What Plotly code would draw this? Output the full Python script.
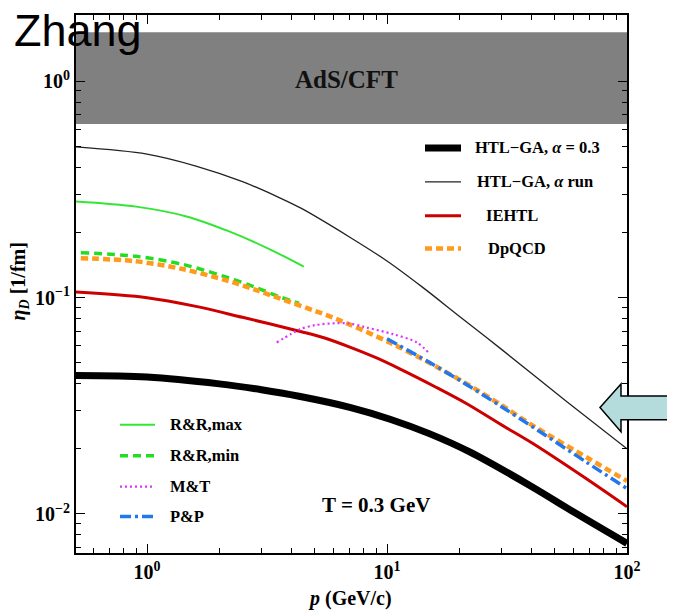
import numpy as np
import plotly.graph_objects as go

# ---------------- data ----------------
htl_fixed_p = [0.5, 1.0, 2.0, 3.0, 4.3, 7.0, 10.3, 15, 22, 40, 60, 100]
htl_fixed_eta = [0.0436, 0.0429, 0.0399, 0.0375, 0.0350, 0.0311, 0.0274, 0.0235, 0.0194, 0.0134, 0.0102, 0.00731]

htl_run_p = [0.5, 1.0, 1.6, 2.5, 3.5, 4.4, 7.0, 10, 14, 20, 30, 56, 100]
htl_run_eta = [0.497, 0.46, 0.405, 0.343, 0.292, 0.258, 0.190, 0.1475, 0.112, 0.082, 0.0576, 0.0331, 0.020]

iehtl_p = [0.5, 1.0, 1.6, 2.5, 4.4, 5.5, 7.0, 9.0, 11.3, 16, 21.5, 30, 40.7, 68, 100]
iehtl_eta = [0.106, 0.0998, 0.091, 0.081, 0.0695, 0.0650, 0.0590, 0.0527, 0.0468, 0.0385, 0.0323, 0.0258, 0.0211, 0.0145, 0.0108]

dpqcd_p = [0.53, 0.9, 1.42, 2.2, 2.8, 3.5, 5.6, 7.0, 10.3, 14.2, 21, 30, 41, 70, 100]
dpqcd_eta = [0.152, 0.147, 0.135, 0.119, 0.109, 0.0998, 0.0829, 0.0750, 0.0618, 0.0516, 0.0405, 0.0318, 0.0254, 0.0179, 0.0142]

rr_max_p = [0.5, 0.9, 1.46, 2.2, 3.25, 4.5]
rr_max_eta = [0.278, 0.263, 0.237, 0.202, 0.167, 0.139]

rr_min_p = [0.53, 0.9, 1.42, 2.2, 2.8, 3.5, 4.3]
rr_min_eta = [0.161, 0.155, 0.142, 0.123, 0.112, 0.1016, 0.094]

mt_p = [3.47, 4.0, 4.34, 5.0, 6.17, 7.0, 8.2, 10.6, 13.3, 15.1]
mt_eta = [0.062, 0.068, 0.0714, 0.0745, 0.0761, 0.0758, 0.0727, 0.0677, 0.062, 0.0548]

pp_p = [10, 15, 21, 30, 41, 68, 100]
pp_eta = [0.0645, 0.0502, 0.0402, 0.0313, 0.0250, 0.0173, 0.0131]

ads_cft_band = [0.634, 1.68]          # eta_D range of AdS/CFT band
x_range = [0.506, 100]
y_range = [0.0066, 2.02]

x_major = [1, 10, 100]
x_major_text = ["10<sup>0</sup>", "10<sup>1</sup>", "10<sup>2</sup>"]
y_major = [0.01, 0.1, 1]
y_major_text = ["10<sup>\u22122</sup>", "10<sup>\u22121</sup>", "10<sup>0</sup>"]
x_minor = [0.6, 0.7, 0.8, 0.9] + [k for k in range(2, 10)] + [10 * k for k in range(2, 10)]
y_minor = [0.007, 0.008, 0.009] + [k / 100 for k in range(2, 10)] + [k / 10 for k in range(2, 10)] + [2]

# ---------------- figure ----------------
W, H = 675, 611
BODY = 8   # default page body margin of the html page
X0, X1, Y0, Y1 = 76, 627, 12.5, 552.7


def px(v):
    return (v - X0) / (X1 - X0)


def py(v):
    return (Y1 - v) / (Y1 - Y0)


SERIF = "Liberation Serif"
fig = go.Figure()

# AdS/CFT band
fig.add_trace(go.Scatter(
    x=[x_range[0], x_range[1], x_range[1], x_range[0]],
    y=[ads_cft_band[0], ads_cft_band[0], ads_cft_band[1], ads_cft_band[1]],
    fill="toself", fillcolor="#808080", mode="lines",
    line=dict(width=0, color="#808080"), hoverinfo="skip", showlegend=False))

SM = dict(shape="spline", smoothing=0.9)
series = [
    (htl_fixed_p, htl_fixed_eta, dict(color="black", width=7)),
    (htl_run_p, htl_run_eta, dict(color="#222222", width=1.3)),
    (iehtl_p, iehtl_eta, dict(color="#cc0000", width=3)),
    (rr_max_p, rr_max_eta, dict(color="#33e633", width=2)),
    (rr_min_p, rr_min_eta, dict(color="#22dd22", width=3.5, dash="8px,5px")),
    (dpqcd_p, dpqcd_eta, dict(color="#ff9a1a", width=4.5, dash="7px,4px")),
    (mt_p, mt_eta, dict(color="#dd33ff", width=2.2, dash="2px,3px")),
    (pp_p, pp_eta, dict(color="#2277ee", width=3.5, dash="11px,4px,3px,4px")),
]
names = ["HTL\u2212GA, \u03b1 = 0.3", "HTL\u2212GA, \u03b1 run", "IEHTL", "R&R,max",
         "R&R,min", "DpQCD", "M&T", "P&P"]
for (xs, ys, ln), nm in zip(series, names):
    ln = dict(ln, **SM)
    fig.add_trace(go.Scatter(x=xs, y=ys, mode="lines", line=ln, name=nm, showlegend=False))

axis_common = dict(
    type="log", showgrid=False, zeroline=False, showline=True, linewidth=2,
    linecolor="black", mirror="allticks", ticks="inside", ticklen=9, tickwidth=1.3,
    tickcolor="black", tickmode="array",
    tickfont=dict(family=SERIF, size=20, color="black", weight="bold"),
)
fig.update_xaxes(**axis_common, range=[np.log10(x_range[0]), np.log10(x_range[1])],
                 tickvals=x_major, ticktext=x_major_text,
                 minor=dict(tickmode="array", tickvals=x_minor, ticks="inside", ticklen=5,
                            tickwidth=1, tickcolor="black", showgrid=False))
fig.update_yaxes(**axis_common, range=[np.log10(y_range[0]), np.log10(y_range[1])],
                 tickvals=y_major, ticktext=y_major_text,
                 minor=dict(tickmode="array", tickvals=y_minor, ticks="inside", ticklen=5,
                            tickwidth=1, tickcolor="black", showgrid=False))

ann = []
shapes = []


def text(t, x, y, size, xanchor="left", family=SERIF, bold=True, angle=0, color="black"):
    ann.append(dict(text=t, x=px(x), y=py(y), xref="paper", yref="paper",
                    xanchor=xanchor, yanchor="middle", showarrow=False, textangle=angle,
                    font=dict(family=family, size=size, color=color,
                              weight="bold" if bold else "normal")))


text("AdS/CFT", 346, 77, 25, xanchor="center", color="#111111")
text("T = 0.3 GeV", 320, 505, 21)
text("<i>p</i> (GeV/c)", 350, 598, 20, xanchor="center")
text("<i>\u03b7<sub>D</sub></i> [1/fm]", 19, 280, 20, xanchor="center", angle=-90)
text("Zhang", 12, 28, 45, family="Liberation Sans", bold=False)

# legend (top right)
top_leg = [
    (146, 473, "HTL\u2212GA, <i>\u03b1</i> = 0.3", series[0][2]),
    (180, 475, "HTL\u2212GA, <i>\u03b1</i> run", series[1][2]),
    (214, 484, "IEHTL", series[2][2]),
    (247, 486, "DpQCD", series[5][2]),
]
for yy, tx, lab, ln in top_leg:
    shapes.append(dict(type="line", xref="paper", yref="paper", x0=px(425), x1=px(461),
                       y0=py(yy), y1=py(yy), line=dict(color=ln["color"], width=ln["width"],
                                                       dash=ln.get("dash", "solid"))))
    text(lab, tx, yy, 16.5)

bot_leg = [
    (424, "R&amp;R,max", series[3][2]),
    (455, "R&amp;R,min", series[4][2]),
    (486, "M&amp;T", series[6][2]),
    (516, "P&amp;P", series[7][2]),
]
for yy, lab, ln in bot_leg:
    shapes.append(dict(type="line", xref="paper", yref="paper", x0=px(120), x1=px(155),
                       y0=py(yy), y1=py(yy), line=dict(color=ln["color"], width=ln["width"],
                                                       dash=ln.get("dash", "solid"))))
    text(lab, 168, yy, 16.5)

# arrow on the right
pts = [(600, 406.5), (621, 383), (621, 395), (674, 395), (674, 419), (621, 419), (621, 431)]
path = "M " + " L ".join(f"{px(a):.4f},{py(b):.4f}" for a, b in pts) + " Z"
shapes.append(dict(type="path", xref="paper", yref="paper", path=path,
                   fillcolor="#b5dcdc", line=dict(color="black", width=1.5)))
# yellow box edge
shapes.append(dict(type="line", xref="paper", yref="paper", x0=px(674), x1=px(674),
                   y0=py(177), y1=py(258), line=dict(color="#ffee66", width=1.5)))

fig.update_layout(
    width=W - BODY, height=H - BODY,
    margin=dict(l=X0 - BODY, r=W - X1, t=Y0 - BODY, b=H - Y1, pad=0),
    paper_bgcolor="white", plot_bgcolor="white",
    showlegend=False, annotations=ann, shapes=shapes,
)

fig.write_html("out.html")
